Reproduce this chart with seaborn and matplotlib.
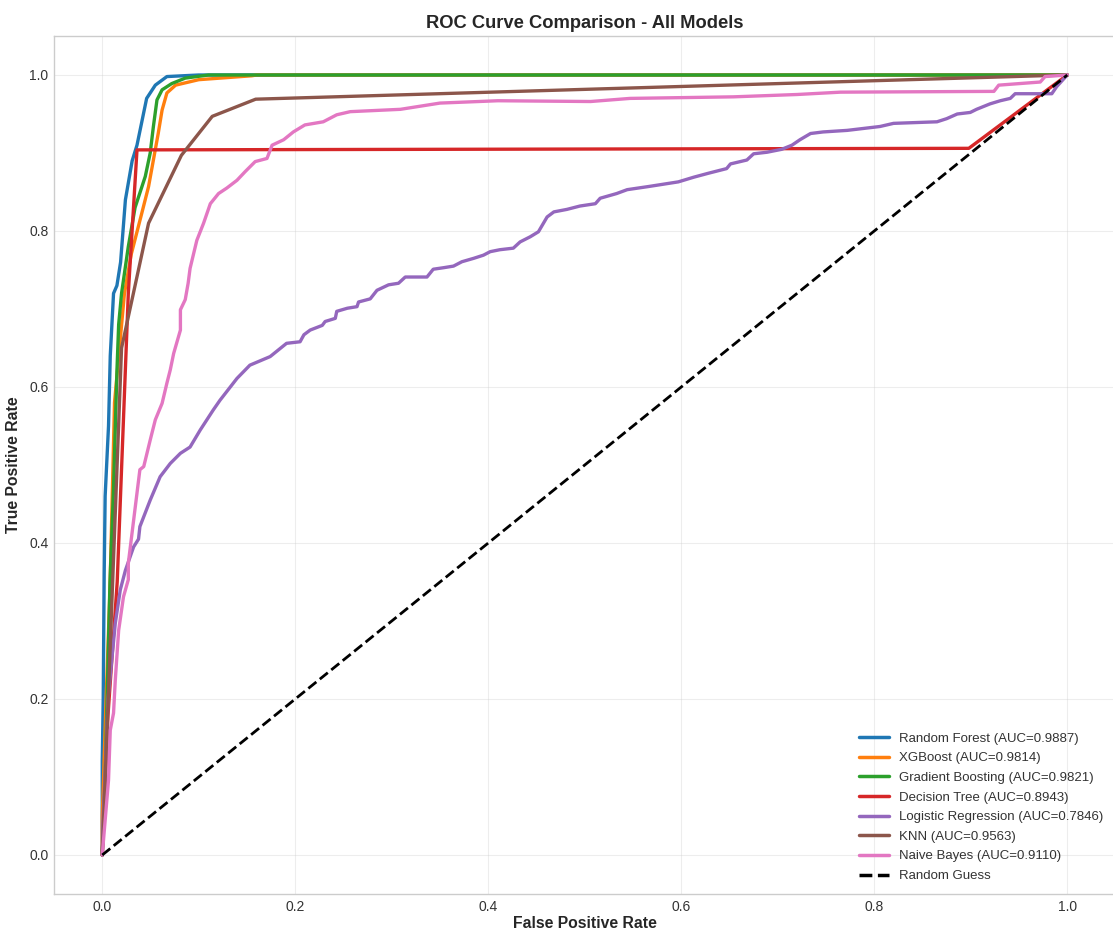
import numpy as np
import pandas as pd
import matplotlib
matplotlib.use("Agg")
import matplotlib.pyplot as plt
import seaborn as sns

models = ["Random Forest", "XGBoost", "Gradient Boosting", "Decision Tree",
          "Logistic Regression", "KNN", "Naive Bayes"]
aucs = [0.9887, 0.9814, 0.9821, 0.8943, 0.7846, 0.9563, 0.9110]
colors = ["#1f77b4", "#ff7f0e", "#2ca02c", "#d62728", "#9467bd", "#8c564b", "#e377c2"]

rf_fpr = [0, 0.0, 0.001, 0.002, 0.003, 0.0065, 0.0083, 0.0117, 0.0152, 0.019, 0.024, 0.031, 0.036, 0.041, 0.046, 0.055, 0.067, 0.1, 1.0]
rf_tpr = [0, 0.12, 0.2, 0.36, 0.46, 0.55, 0.64, 0.72, 0.73, 0.76, 0.84, 0.89, 0.91, 0.94, 0.97, 0.987, 0.998, 1.0, 1.0]

xgb_fpr = [0, 0.0, 0.004, 0.008, 0.0127, 0.023, 0.03, 0.041, 0.048, 0.053, 0.058, 0.062, 0.067, 0.076, 0.1, 0.155, 0.16, 1.0]
xgb_tpr = [0, 0.05, 0.2, 0.34, 0.58, 0.72, 0.77, 0.823, 0.857, 0.891, 0.925, 0.955, 0.977, 0.987, 0.994, 0.999, 1.0, 1.0]

gb_fpr = [0, 0.003, 0.008, 0.0117, 0.0152, 0.017, 0.02, 0.027, 0.034, 0.0446, 0.0497, 0.053, 0.0567, 0.062, 0.072, 0.086, 0.11, 1.0]
gb_tpr = [0, 0.1, 0.35, 0.47, 0.62, 0.68, 0.72, 0.78, 0.83, 0.87, 0.90, 0.934, 0.968, 0.981, 0.989, 0.996, 1.0, 1.0]

dt_fpr = [0, 0.006, 0.0155, 0.027, 0.036, 0.898, 1.0]
dt_tpr = [0, 0.18, 0.35, 0.72, 0.904, 0.906, 1.0]

lr_fpr = [0, 0.001, 0.003, 0.006, 0.0135, 0.0187, 0.024, 0.0325, 0.0376, 0.039, 0.0497, 0.060, 0.0705, 0.081,
          0.091, 0.1016, 0.115, 0.122, 0.1396, 0.153, 0.174, 0.184, 0.191, 0.205, 0.209, 0.2155, 0.228, 0.231,
          0.2415, 0.243, 0.254, 0.264, 0.2656, 0.2777, 0.2847, 0.2967, 0.307, 0.314, 0.3365, 0.343, 0.354,
          0.364, 0.3727, 0.385, 0.395, 0.402, 0.412, 0.426, 0.433, 0.4435, 0.452, 0.461, 0.468, 0.4815, 0.495,
          0.511, 0.516, 0.533, 0.544, 0.566, 0.597, 0.613, 0.628, 0.647, 0.651, 0.668, 0.675, 0.689, 0.704,
          0.7147, 0.723, 0.734, 0.747, 0.772, 0.806, 0.82, 0.865, 0.875, 0.886, 0.8995, 0.906, 0.92, 0.9306,
          0.941, 0.946, 0.984, 0.989, 1.0]
lr_tpr = [0, 0.05, 0.105, 0.2, 0.297, 0.34, 0.365, 0.395, 0.405, 0.421, 0.455, 0.485, 0.502, 0.515,
          0.523, 0.545, 0.5705, 0.583, 0.611, 0.628, 0.639, 0.649, 0.656, 0.658, 0.667, 0.673, 0.679, 0.684,
          0.688, 0.697, 0.701, 0.703, 0.709, 0.713, 0.724, 0.731, 0.733, 0.741, 0.741, 0.751, 0.753,
          0.755, 0.7606, 0.765, 0.769, 0.7735, 0.776, 0.778, 0.786, 0.7926, 0.799, 0.818, 0.8245, 0.8277, 0.832,
          0.835, 0.842, 0.848, 0.853, 0.857, 0.863, 0.869, 0.874, 0.880, 0.886, 0.891, 0.899, 0.901, 0.9047,
          0.910, 0.917, 0.925, 0.927, 0.929, 0.934, 0.938, 0.940, 0.944, 0.950, 0.952, 0.956, 0.963, 0.967,
          0.970, 0.976, 0.976, 0.985, 1.0]

knn_fpr = [0, 0.02, 0.048, 0.082, 0.114, 0.159, 0.985, 1.0]
knn_tpr = [0, 0.65, 0.81, 0.897, 0.947, 0.969, 0.9995, 1.0]

nb_fpr = [0, 0.0065, 0.0083, 0.0117, 0.0135, 0.017, 0.022, 0.027, 0.027, 0.0325, 0.039, 0.043, 0.0497,
          0.055, 0.062, 0.067, 0.0705, 0.074, 0.081, 0.081, 0.086, 0.089, 0.091, 0.098, 0.105, 0.112, 0.1205,
          0.129, 0.1396, 0.148, 0.1585, 0.1707, 0.176, 0.188, 0.198, 0.21, 0.229, 0.243, 0.257, 0.309, 0.35,
          0.41, 0.506, 0.547, 0.654, 0.72, 0.765, 0.924, 0.929, 0.972, 0.977, 1.0]
nb_tpr = [0, 0.096, 0.16, 0.182, 0.224, 0.288, 0.331, 0.353, 0.374, 0.429, 0.494, 0.498, 0.532,
          0.558, 0.579, 0.605, 0.622, 0.643, 0.673, 0.699, 0.712, 0.733, 0.752, 0.788, 0.81, 0.835, 0.848,
          0.855, 0.865, 0.876, 0.889, 0.893, 0.910, 0.917, 0.927, 0.936, 0.940, 0.949, 0.953, 0.956, 0.964,
          0.967, 0.966, 0.970, 0.972, 0.975, 0.978, 0.979, 0.987, 0.991, 0.998, 1.0]

fprs = [rf_fpr, xgb_fpr, gb_fpr, dt_fpr, lr_fpr, knn_fpr, nb_fpr]
tprs = [rf_tpr, xgb_tpr, gb_tpr, dt_tpr, lr_tpr, knn_tpr, nb_tpr]

frames = []
labels = []
for m, a, f, t in zip(models, aucs, fprs, tprs):
    lab = f"{m} (AUC={a:.4f})"
    labels.append(lab)
    frames.append(pd.DataFrame({"fpr": f, "tpr": t, "model": lab}))
df = pd.concat(frames, ignore_index=True)

sns.set_style("whitegrid")
plt.rcParams["font.family"] = ["Liberation Sans", "DejaVu Sans"]

fig = plt.figure(figsize=(11.13, 9.32), dpi=100)
ax = fig.add_axes([54 / 1113, 38 / 932, 1061.5 / 1113, 858 / 932])

sns.lineplot(data=df, x="fpr", y="tpr", hue="model", hue_order=labels,
             palette=dict(zip(labels, colors)), estimator=None, sort=False,
             units="model", linewidth=2.4, ax=ax)
ax.plot([0, 1], [0, 1], "k--", linewidth=2, label="Random Guess")

ax.set_xlim(-0.05, 1.05)
ax.set_ylim(-0.05, 1.05)
ax.set_xticks([0, 0.2, 0.4, 0.6, 0.8, 1.0])
ax.set_yticks([0, 0.2, 0.4, 0.6, 0.8, 1.0])
ax.grid(True, color="#cccccc", alpha=0.35, linewidth=0.8)
for s in ax.spines.values():
    s.set_color("#cccccc")
    s.set_linewidth(1.0)
ax.tick_params(labelsize=10, colors="#333333", length=0, pad=4)
ax.set_xlabel("False Positive Rate", fontsize=11.3, fontweight="bold", color="#262626", labelpad=2)
ax.set_ylabel("True Positive Rate", fontsize=11.3, fontweight="bold", color="#262626", labelpad=6)
ax.set_title("ROC Curve Comparison - All Models", fontsize=13.2, fontweight="bold", color="#262626", pad=6)

handles, labs = ax.get_legend_handles_labels()
leg = ax.legend(handles, labs, loc="lower right", fontsize=9.5, frameon=False,
                handlelength=2.3, borderaxespad=0.5, labelspacing=0.56, handletextpad=0.75)
for txt in leg.get_texts():
    txt.set_color("#333333")
for h in leg.get_lines():
    h.set_linewidth(2.5)

fig.savefig("out.png", dpi=100)
